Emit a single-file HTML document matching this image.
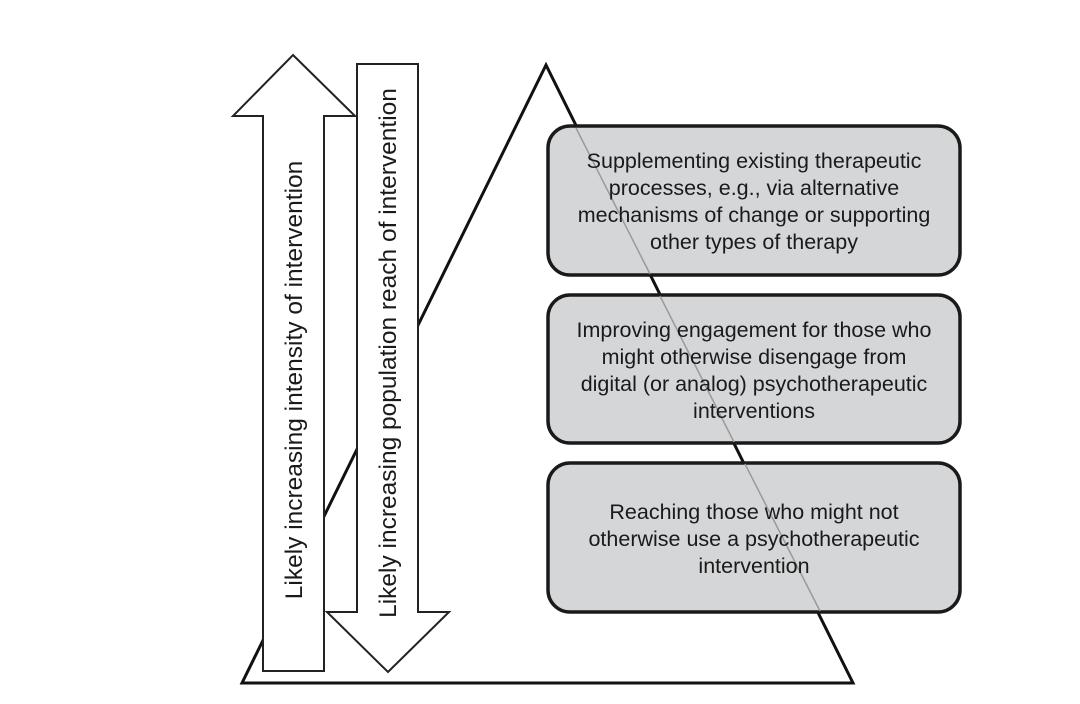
<!DOCTYPE html>
<html><head><style>
body{margin:0;background:#fff;}
svg text{font-family:"Liberation Sans",sans-serif;fill:#1a1a1a;}
</style></head><body>
<svg width="1080" height="699" viewBox="0 0 1080 699" xmlns="http://www.w3.org/2000/svg">
<polygon points="546,65 242,683 853,683" fill="none" stroke="#111" stroke-width="3"/>
<polygon points="293,55 355,116 324,116 324,671 263,671 263,116 233,116" fill="#fff" stroke="#222" stroke-width="2"/>
<polygon points="357,64 418,64 418,612 449,612 388,672 327,612 357,612" fill="#fff" stroke="#222" stroke-width="2"/>
<text transform="translate(302,380) rotate(-90)" text-anchor="middle" font-size="24.5">Likely increasing intensity of intervention</text>
<text transform="translate(396,353) rotate(-90)" text-anchor="middle" font-size="24.5">Likely increasing population reach of intervention</text>
<g fill="#d5d6d7" stroke="#1a1a1a" stroke-width="3.5">
<rect x="548" y="126" width="412" height="149" rx="22"/>
<rect x="548" y="295" width="412" height="148" rx="22"/>
<rect x="548" y="463" width="412" height="149" rx="22"/>
</g>
<g stroke="#9a9a9a" stroke-width="1.5">
<line x1="576" y1="128" x2="650" y2="274"/>
<line x1="660" y1="296" x2="734" y2="442"/>
<line x1="745" y1="464" x2="820" y2="611"/>
</g>
<g font-size="21.5" text-anchor="middle">
<text x="754" y="168">Supplementing existing therapeutic</text>
<text x="754" y="195">processes, e.g., via alternative</text>
<text x="754" y="222">mechanisms of change or supporting</text>
<text x="754" y="249">other types of therapy</text>
<text x="754" y="337">Improving engagement for those who</text>
<text x="754" y="364">might otherwise disengage from</text>
<text x="754" y="391">digital (or analog) psychotherapeutic</text>
<text x="754" y="418">interventions</text>
<text x="754" y="519">Reaching those who might not</text>
<text x="754" y="546">otherwise use a psychotherapeutic</text>
<text x="754" y="573">intervention</text>
</g>
</svg>
</body></html>
